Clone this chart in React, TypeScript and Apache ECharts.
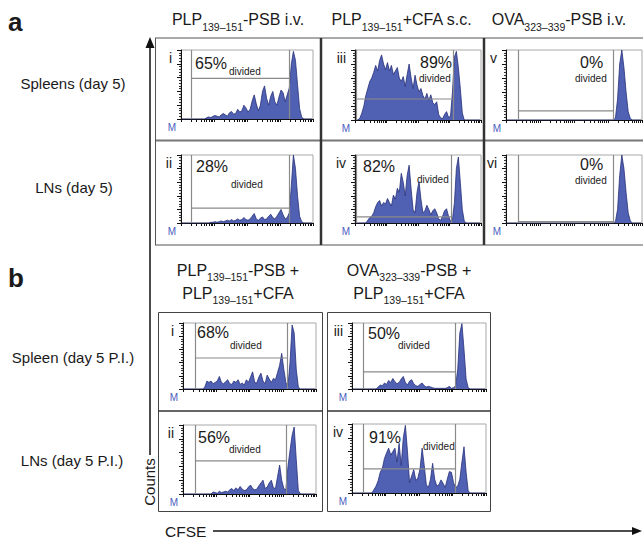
import React, { useEffect, useRef } from "react";
import * as echarts from "echarts";

// ---------- data (histogram heights, % of max, in 64 CFSE bins over 4 log decades) ----------
const histAi = [0,0,0,0,0,0,0,0,0,0,0,0,2,3,2,4,5,4,3,6,8,6,4,9,11,7,8,14,10,12,20,16,10,14,26,35,22,12,20,40,48,30,20,33,40,25,20,32,42,38,25,35,45,80,98,85,50,15,3,0,0,0,0,0];
const histAii = [0,0,0,0,0,0,0,0,0,0,0,0,0,0,1,1,2,1,2,3,2,3,4,3,5,3,4,6,4,5,8,5,4,6,10,14,6,4,7,9,5,6,10,13,8,6,10,15,20,12,6,8,15,55,100,80,40,10,2,0,0,0,0,0];
const histAiii = [0,0,3,10,20,35,45,55,60,68,78,70,85,93,80,72,82,70,78,65,70,75,60,55,62,48,65,80,60,45,64,50,40,45,35,30,38,28,36,25,22,26,8,3,2,8,12,4,5,40,90,98,75,45,10,0,0,0,0,0,0,0,0,0];
const histAiv = [0,0,0,0,0,0,4,8,10,15,24,30,33,25,30,28,36,30,25,41,35,51,45,73,60,40,70,85,50,20,15,45,61,35,15,18,26,20,12,18,21,15,6,4,10,18,21,10,3,5,30,80,97,60,20,3,0,0,0,0,0,0,0,0];
const histAv = [0,0,0,0,0,0,0,0,0,0,0,0,0,0,0,0,0,0,0,0,0,0,0,0,0,0,0,0,0,0,0,0,0,0,0,0,0,0,0,0,0,0,0,0,0,0,0,0,0,0,0,3,30,80,100,75,40,12,2,0,0,0,0,0];
const histAvi = [0,0,0,0,0,0,0,0,0,0,0,0,0,0,0,0,0,0,0,0,0,0,0,0,0,0,0,0,0,0,0,0,0,0,0,0,0,0,0,0,0,0,0,0,0,0,0,0,0,0,0,2,20,70,100,80,45,15,3,0,0,0,0,0];
const histBi = [0,0,0,0,0,0,0,0,0,0,3,12,10,12,8,10,12,19,10,8,11,14,8,7,12,10,14,7,9,6,14,10,18,26,10,9,18,24,12,8,21,15,10,16,14,25,36,54,30,10,5,40,97,85,30,3,0,0,0,0,0,0,0,0];
const histBii = [0,0,0,0,0,0,0,0,0,0,0,0,0,0,3,2,1,4,2,3,4,3,6,8,5,9,6,11,7,5,6,10,13,8,6,7,12,16,20,8,10,16,20,9,8,25,42,20,8,6,40,63,85,97,50,5,0,0,0,0,0,0,0,0];
const histBiii = [0,0,0,0,0,0,0,0,0,0,0,0,3,6,5,9,7,13,10,16,11,8,10,15,19,10,6,12,14,8,5,4,7,9,5,3,4,3,2,1,1,1,1,1,1,2,4,1,2,5,30,85,99,60,15,2,0,0,0,0,0,0,0,0];
const histBiv = [0,0,0,0,0,0,0,0,0,0,5,10,18,30,36,50,58,65,55,60,65,45,72,40,80,98,60,15,25,34,18,22,35,65,40,12,8,20,43,20,10,12,19,14,8,20,31,30,15,8,10,20,45,67,30,3,0,0,0,0,0,0,0,0];

// gates: [start bin, end bin, marker level %]
const gateAi = [4.8, 52.4, 59];
const gateAii = [4.8, 52.4, 22];
const gateAiii = [0.5, 49.8, 30];
const gateAiv = [0.5, 48.8, 9];
const gateAv = [5.6, 50.4, 13];
const gateAvi = [5.6, 50.4, 2];
const gateBi = [5.8, 50, 47];
const gateBii = [5.8, 49.5, 48];
const gateBiii = [5.3, 49.2, 26];
const gateBiv = [5.3, 49.2, 35];

const pctLabels = ["65%", "28%", "89%", "82%", "0%", "0%", "68%", "56%", "50%", "91%"];
const romanLabels = ["i", "ii", "iii", "iv", "v", "vi", "i", "ii", "iii", "iv"];
const rowLabelsA = ["Spleens (day 5)", "LNs (day 5)"];
const rowLabelsB = ["Spleen (day 5 P.I.)", "LNs (day 5 P.I.)"];
const dividedLabel = "divided";
const xDecades = [0, 1, 2, 3];
const xMultipliers = [1, 2, 3, 4, 5, 6, 7, 8, 9];
const BINS = 64;

// title segments: [text, isSubscript]
const titleA1: [string, boolean][] = [["PLP", false], ["139–151", true], ["-PSB i.v.", false]];
const titleA2: [string, boolean][] = [["PLP", false], ["139–151", true], ["+CFA s.c.", false]];
const titleA3: [string, boolean][] = [["OVA", false], ["323–339", true], ["-PSB i.v.", false]];
const titleB1a: [string, boolean][] = [["PLP", false], ["139–151", true], ["-PSB +", false]];
const titleB2a: [string, boolean][] = [["OVA", false], ["323–339", true], ["-PSB +", false]];
const titleBb: [string, boolean][] = [["PLP", false], ["139–151", true], ["+CFA", false]];

const hists = [histAi, histAii, histAiii, histAiv, histAv, histAvi, histBi, histBii, histBiii, histBiv];
const gates = [gateAi, gateAii, gateAiii, gateAiv, gateAv, gateAvi, gateBi, gateBii, gateBiii, gateBiv];

// ---------- layout ----------
const FONT = '"Liberation Sans", Arial, Helvetica, sans-serif';
const layout = [
  { left: 181, top: 50, w: 132, h: 69, pct: [195, 63], div: [229, 71] },
  { left: 181, top: 155, w: 132, h: 68, pct: [196, 166], div: [231, 184] },
  { left: 355, top: 50, w: 126, h: 70, pct: [420, 62], div: [419, 78] },
  { left: 355, top: 155, w: 126, h: 68, pct: [363, 166], div: [417, 179] },
  { left: 506, top: 50, w: 136, h: 70, pct: [580, 62], div: [575, 78] },
  { left: 506, top: 155, w: 136, h: 68, pct: [580, 164], div: [575, 180] },
  { left: 183, top: 323, w: 133, h: 66, pct: [197, 332], div: [230, 345] },
  { left: 183, top: 425, w: 133, h: 69, pct: [198, 437], div: [229, 449] },
  { left: 352, top: 323, w: 134, h: 66, pct: [368, 333], div: [398, 345] },
  { left: 352, top: 424, w: 134, h: 69, pct: [369, 437], div: [423, 446] },
];

let measureCtx: CanvasRenderingContext2D | null = null;
function textWidth(t: string, size: number) {
  if (!measureCtx) measureCtx = document.createElement("canvas").getContext("2d");
  if (!measureCtx) return t.length * size * 0.55;
  measureCtx.font = `${size}px "Liberation Sans"`;
  return measureCtx.measureText(t).width;
}

function titleEls(segs: [string, boolean][], cx: number, cy: number, main = 16, sub = 10.5) {
  const widths = segs.map(([t, s]) => textWidth(t, s ? sub : main));
  const total = widths.reduce((a, b) => a + b, 0);
  let x = cx - total / 2;
  return segs.map(([t, s], i) => {
    const el = {
      type: "text",
      x,
      y: s ? cy + 7 : cy,
      silent: true,
      style: { text: t, fontSize: s ? sub : main, fontFamily: FONT, fill: "#1a1a1a", textAlign: "left", textVerticalAlign: "middle" },
    };
    x += widths[i];
    return el;
  });
}

function txt(text: string, x: number, y: number, size: number, extra: any = {}) {
  return {
    type: "text",
    x,
    y,
    silent: true,
    style: { text, fontSize: size, fontFamily: FONT, fill: "#1a1a1a", textAlign: "left", textVerticalAlign: "middle", ...extra },
  };
}

function line(x1: number, y1: number, x2: number, y2: number, color: string, w: number) {
  return { type: "line", silent: true, shape: { x1, y1, x2, y2 }, style: { stroke: color, lineWidth: w } };
}

function buildOption() {
  const xTicks = xDecades
    .flatMap((d) => xMultipliers.map((m) => (BINS / 4) * Math.log10(m * Math.pow(10, d))))
    .concat([BINS]);

  const grid = layout.map((p) => ({
    left: p.left, top: p.top, width: p.w, height: p.h,
    show: true, borderColor: "#a8a8a8", borderWidth: 1, backgroundColor: "transparent",
  }));
  const xAxis = layout.map((_, i) => ({
    gridIndex: i, type: "value", min: 0, max: BINS,
    axisLine: { show: true, onZero: false, lineStyle: { color: "#111", width: 1 } },
    axisTick: { show: true, length: 3, customValues: xTicks, lineStyle: { color: "#111", width: 1 } },
    axisLabel: { show: false }, splitLine: { show: false },
  }));
  const yAxis = layout.map((_, i) => ({
    gridIndex: i, type: "value", min: 0, max: 100, interval: 20,
    axisLine: { show: true, onZero: false, lineStyle: { color: "#111", width: 1 } },
    axisTick: { show: true, length: 4, lineStyle: { color: "#111" } },
    minorTick: { show: true, splitNumber: 5, length: 2, lineStyle: { color: "#333" } },
    axisLabel: { show: false }, splitLine: { show: false },
  }));
  const series: any[] = [];
  hists.forEach((h, i) => {
    series.push({
      type: "line", xAxisIndex: i, yAxisIndex: i, silent: true,
      data: h.map((v, k) => [k + 0.5, v]),
      showSymbol: false, symbol: "none",
      lineStyle: { color: "#27307a", width: 0.8 },
      areaStyle: { color: "#5060b2", opacity: 1 },
      z: 2,
    });
    const g = gates[i];
    series.push({
      type: "line", xAxisIndex: i, yAxisIndex: i, silent: true,
      data: [[g[0], g[2]], [g[1], g[2]]],
      showSymbol: false, symbol: "none",
      lineStyle: { color: "#8a8a8a", width: 1.2 },
      z: 3,
      markLine: {
        silent: true, symbol: ["none", "none"], label: { show: false },
        lineStyle: { color: "#8a8a8a", width: 1.2, type: "solid" },
        data: [{ xAxis: g[0] }, { xAxis: g[1] }],
      },
    });
  });

  const els: any[] = [];
  // panel frames, row a
  els.push(line(155, 38, 643, 38, "#555", 1));
  els.push(line(155, 140.5, 643, 140.5, "#777", 2));
  els.push(line(155, 245, 643, 245, "#555", 1));
  els.push(line(155.5, 38, 155.5, 245, "#555", 1));
  els.push(line(321, 38, 321, 245, "#333", 2.5));
  els.push(line(484, 38, 484, 245, "#333", 2.5));
  // panel frames, row b
  els.push({ type: "rect", silent: true, shape: { x: 158.5, y: 312.5, width: 164, height: 199 }, style: { fill: "none", stroke: "#444", lineWidth: 1 } });
  els.push({ type: "rect", silent: true, shape: { x: 327.5, y: 312.5, width: 163, height: 199 }, style: { fill: "none", stroke: "#444", lineWidth: 1 } });
  els.push(line(158, 411, 323, 411, "#333", 1.6));
  els.push(line(327, 411, 491, 411, "#333", 1.6));

  // titles
  els.push(...titleEls(titleA1, 238, 19.5));
  els.push(...titleEls(titleA2, 402, 19.5));
  els.push(...titleEls(titleA3, 559, 19.5));
  els.push(...titleEls(titleB1a, 238, 270));
  els.push(...titleEls(titleBb, 238, 293));
  els.push(...titleEls(titleB2a, 409, 270));
  els.push(...titleEls(titleBb, 409, 293));

  // section letters
  els.push(txt("a", 8, 22, 26, { fontWeight: "bold" }));
  els.push(txt("b", 8, 278, 26, { fontWeight: "bold" }));

  // row labels
  els.push(txt(rowLabelsA[0], 73, 83, 15, { textAlign: "center" }));
  els.push(txt(rowLabelsA[1], 74, 187, 15, { textAlign: "center" }));
  els.push(txt(rowLabelsB[0], 73, 357, 15, { textAlign: "center" }));
  els.push(txt(rowLabelsB[1], 72, 460, 15, { textAlign: "center" }));

  // per-panel texts
  layout.forEach((p, i) => {
    els.push(txt(romanLabels[i], p.left - 9, p.top + 8, 14, { textAlign: "right" }));
    els.push(txt("M", p.left - 9, p.top + p.h + 8, 10, { textAlign: "center", fill: "#4a5cc0" }));
    els.push(txt(pctLabels[i], p.pct[0], p.pct[1], 16));
    els.push(txt(dividedLabel, p.div[0], p.div[1], 10));
  });

  // Counts arrow
  els.push(line(150, 44, 150, 455, "#111", 1.5));
  els.push({ type: "polygon", silent: true, shape: { points: [[145.5, 48], [150, 37], [154.5, 48]] }, style: { fill: "#111" } });
  els.push({ type: "text", x: 149, y: 482, rotation: Math.PI / 2, silent: true, style: { text: "Counts", fontSize: 15, fontFamily: FONT, fill: "#1a1a1a", textAlign: "center", textVerticalAlign: "middle" } });

  // CFSE arrow
  els.push(txt("CFSE", 165, 531, 15.5));
  els.push(line(213, 531, 634, 531, "#111", 1.3));
  els.push({ type: "polygon", silent: true, shape: { points: [[632, 527], [642, 531], [632, 535]] }, style: { fill: "#111" } });

  return {
    animation: false,
    backgroundColor: "#ffffff",
    grid, xAxis, yAxis, series,
    graphic: { elements: els },
  };
}

export default function App() {
  const ref = useRef<HTMLDivElement>(null);
  useEffect(() => {
    if (!ref.current) return;
    const chart = echarts.init(ref.current, undefined, { renderer: "svg" });
    chart.setOption(buildOption() as any);
    return () => chart.dispose();
  }, []);
  return <div ref={ref} style={{ position: "fixed", left: 0, top: 0, width: 643, height: 538 }} />;
}
